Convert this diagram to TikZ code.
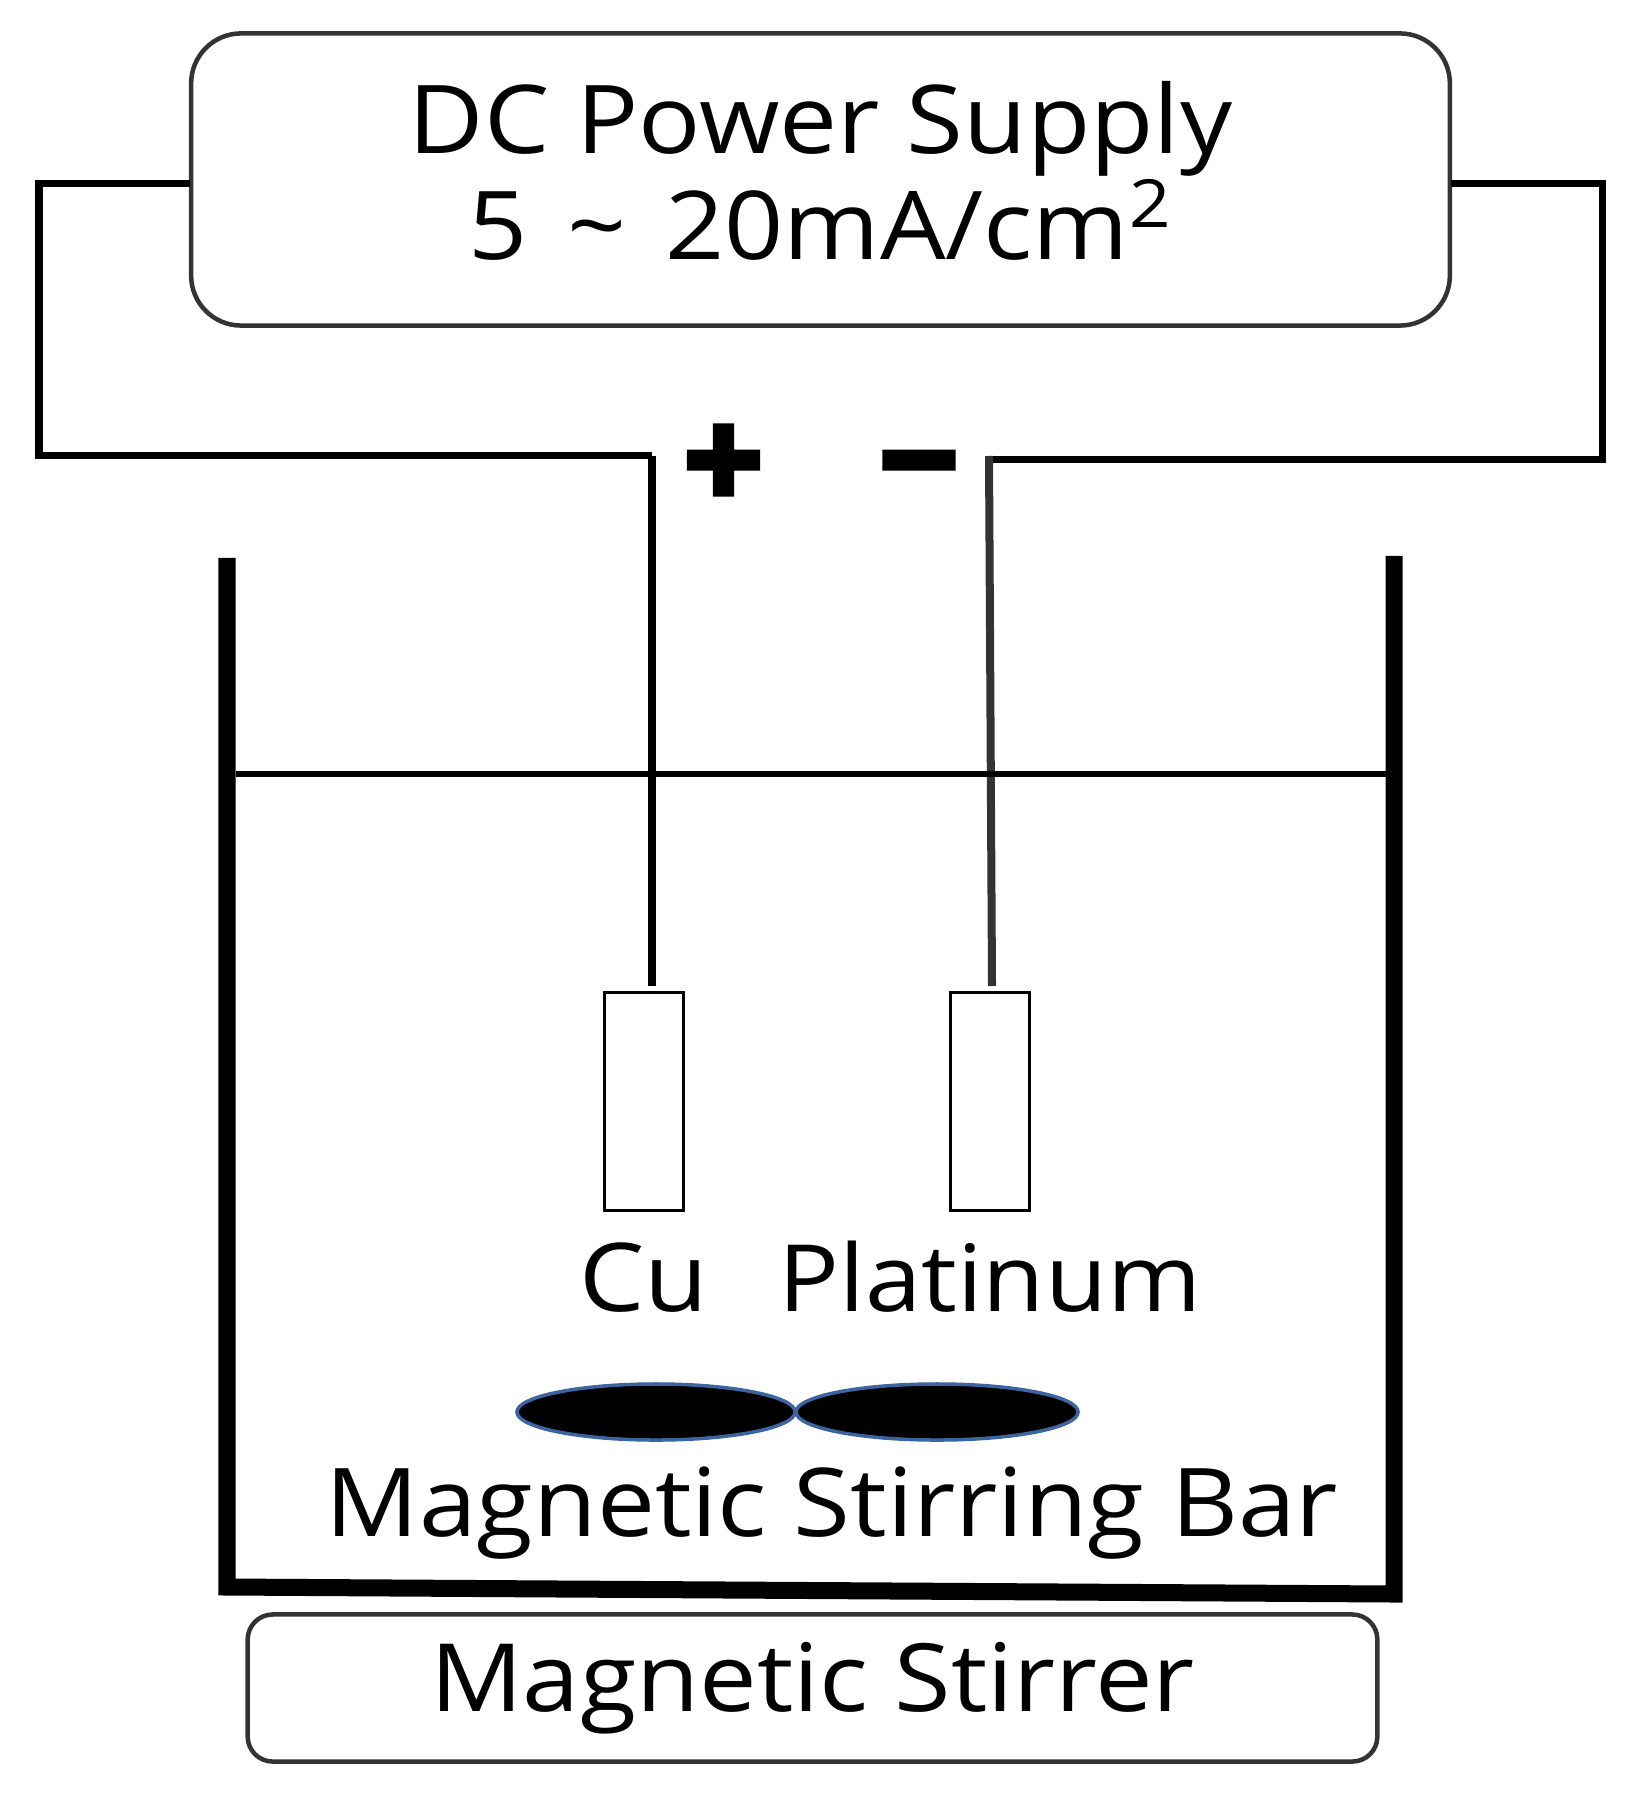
\documentclass[tikz,border=0pt]{standalone}
\usepackage{fontspec}
\setmainfont[FakeStretch=1.09]{Open Sans}
\newfontfamily\signfont[FakeBold=9]{DejaVu Sans Bold}
\usetikzlibrary{calc}
\definecolor{barblue}{RGB}{59,100,160}
\tikzset{
	wire/.style={line width=0.07cm, color=black},
	lead/.style={line width=0.08cm, color=black},
	beaker/.style={line width=0.17cm, color=black, line join=miter},
	plate/.style={draw, line width=0.03cm, minimum width=0.79cm, minimum height=2.18cm, inner sep=0pt},
	bar/.style={draw=barblue, line width=0.035cm, fill=black},
	bigbox/.style={draw=black!80, line width=0.045cm, rounded corners=0.5cm, align=center, inner sep=0pt},
	lowbox/.style={draw=black!80, line width=0.045cm, rounded corners=0.25cm, inner sep=0pt},
	label/.style={anchor=base, inner sep=0pt},
	sign/.style={anchor=base, inner sep=0pt, font=\signfont\fontsize{29}{29}\selectfont}
}
\begin{document}
\begin{tikzpicture}[x=0.01cm, y=-0.01cm]
		%%%%% START %%%%%
		\useasboundingbox (0, 0) rectangle (1630, 1804);
		
		\node[bigbox, minimum width=12.58cm, minimum height=2.92cm, font=\fontsize{27}{30}\selectfont] (supply) at (820.5, 179.5) {DC Power Supply\\5\hspace{3.5pt} \textasciitilde\hspace{3.5pt} 20mA/cm\textsuperscript{2}\rule[-0.18cm]{0pt}{0.1cm}};
		
		\coordinate (plustap) at (190, 184);
		\coordinate (minustap) at (1451, 184);
		\coordinate (cuend) at (652, 986);
		\coordinate (ptend) at (992, 986);
		
		\draw[wire] (plustap) -- (39, 184) -- (39, 456) -- (652, 456);
		\draw[lead] (652, 456) -- (cuend);
		\draw[wire] (minustap) -- (1602, 184) -- (1602, 460) -- (989, 460);
		\draw[lead, color=black!80] (989, 456) -- (ptend);
		
		\node[sign] (plus) at (723.5, 492) {+};
		\node[sign] (minus) at (919, 492) {−};
		
		\draw[beaker] (227, 558) -- (227, 1587) -- (1394, 1594) -- (1394, 556);
		\draw[line width=0.065cm] (236, 774) -- (1390, 774);
		
		\node[plate] (cu) at (644, 1101.5) {};
		\node[plate] (pt) at (990, 1101.5) {};
		
		\node[label, font=\fontsize{27}{30}\selectfont] (culabel) at (644, 1311) {Cu};
		\node[label, font=\fontsize{26.4}{30}\selectfont] (ptlabel) at (990, 1311) {Platinum};
		
		\draw[bar] (656, 1412) ellipse (1.39cm and 0.28cm);
		\draw[bar] (937, 1412) ellipse (1.41cm and 0.28cm);
		
		\node[label, font=\fontsize{27}{30}\selectfont] (barlabel) at (832, 1536) {Magnetic Stirring Bar};
		
		\node[lowbox, minimum width=11.29cm, minimum height=1.47cm, font=\fontsize{26.8}{30}\selectfont] (stirrer) at (812.5, 1688) {Magnetic Stirrer};
		
		%%%%% END %%%%%
	\end{tikzpicture}
\end{document}
